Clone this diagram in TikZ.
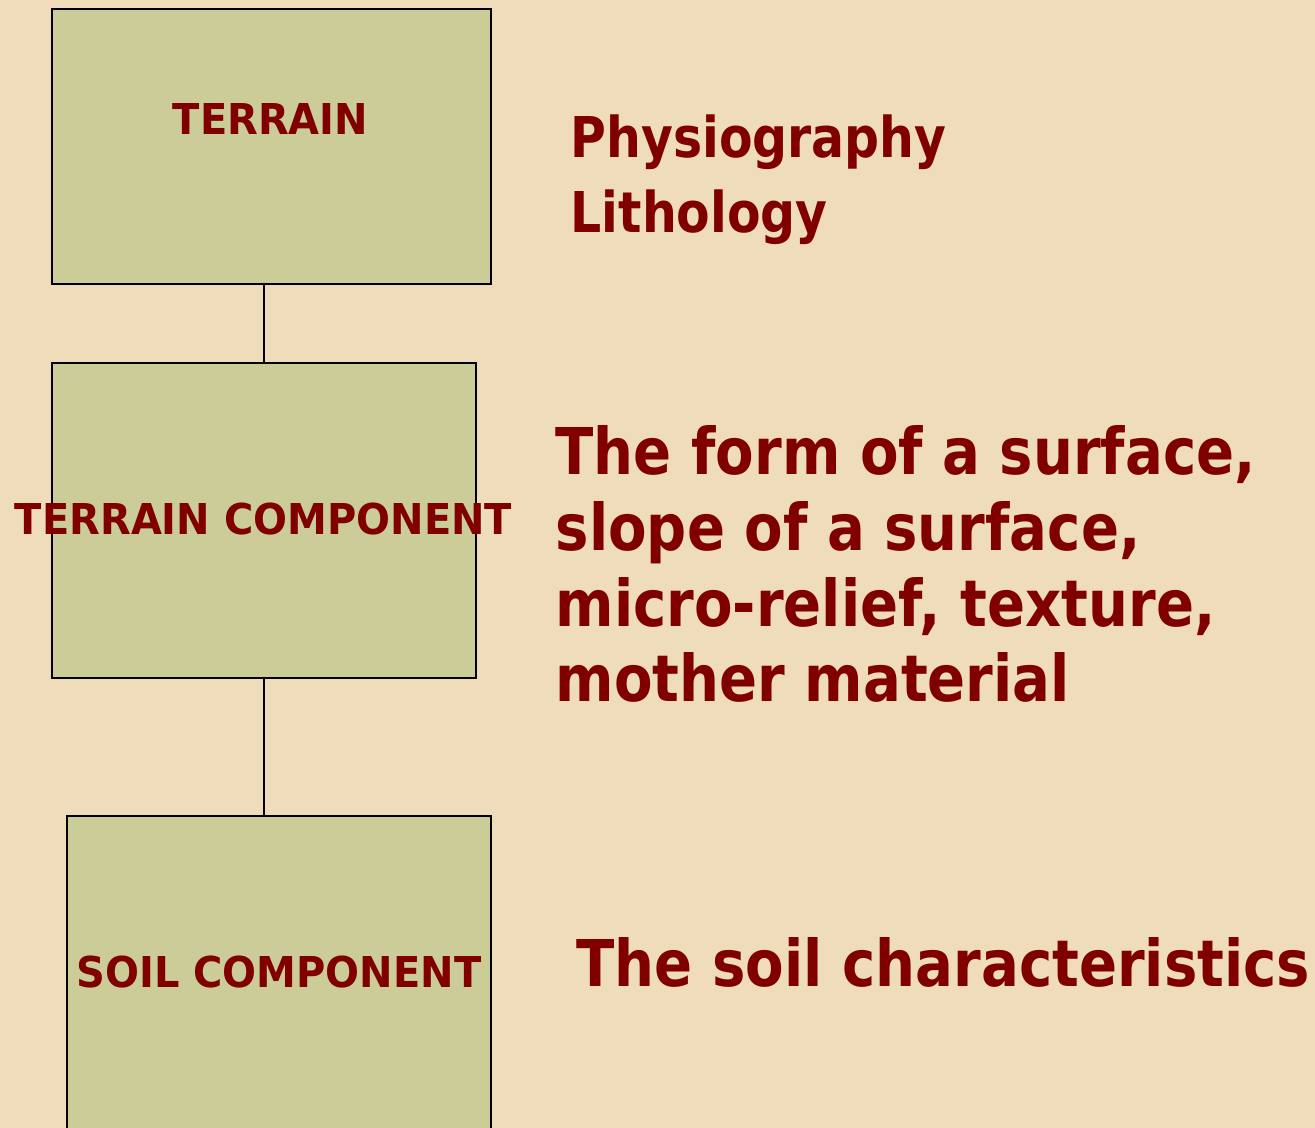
\documentclass[tikz,border=0pt]{standalone}
\usepackage{fontspec}
\setmainfont{DejaVu Sans}
\newfontfamily\slNoteFont[FakeStretch=0.87]{DejaVu Sans}
\newfontfamily\slLabelFont[FakeStretch=0.94]{DejaVu Sans}
\usetikzlibrary{positioning}
\definecolor{slPaper}{HTML}{EFDCBA}
\definecolor{slBox}{HTML}{CCCC99}
\definecolor{slInk}{HTML}{800000}
\tikzset{
  sl canvas/.style={fill=slPaper},
  sl box/.style={draw=black, fill=slBox, line width=.55pt, inner sep=0pt},
  sl link/.style={draw=black, line width=.55pt},
  sl box label/.style={font=\slLabelFont\fontsize{12.1pt}{14pt}\bfseries\selectfont,
    text=slInk, inner sep=0pt, anchor=base},
  sl note/.style={font=\slNoteFont\fontsize{18.35pt}{21.6pt}\bfseries\selectfont,
    text=slInk, inner sep=0pt, align=left, anchor=base west},
  sl note small/.style={sl note, font=\slNoteFont\fontsize{16pt}{21.6pt}\bfseries\selectfont}
}

\begin{document}
\begin{tikzpicture}[x=1cm,y=1cm]
  \useasboundingbox (0,0) rectangle (13.15,11.28);
  \path[sl canvas] (0,0) rectangle (13.15,11.28);

  % the three boxes
  \node[sl box, minimum width=4.39cm, minimum height=2.75cm] (terrain) at (2.715,9.815) {};
  \node[sl box, minimum width=4.24cm, minimum height=3.15cm] (component) at (2.64,6.075) {};
  \node[sl box, minimum width=4.24cm, minimum height=3.24cm] (soil) at (2.79,1.50) {};

  \draw[sl link] (component.north) -- (component.north |- terrain.south);
  \draw[sl link] (component.south) -- (component.south |- soil.north);

  \node[sl box label] (terrain label) at (2.705,9.93) {TERRAIN};
  \node[sl box label] (component label) at (2.635,5.93) {TERRAIN COMPONENT};
  \node[sl box label] (soil label) at (2.79,1.40) {SOIL COMPONENT};

  % descriptions (anchored on the last line)
  \node[sl note small] (terrain note) at (5.70,8.95) {Physiography\\Lithology};
  \node[sl note] (component note) at (5.55,4.26)
    {The form of a surface,\\slope of a surface,\\micro-relief, texture,\\mother material};
  \node[sl note] (soil note) at (5.76,1.41) {The soil characteristics};
\end{tikzpicture}
\end{document}
